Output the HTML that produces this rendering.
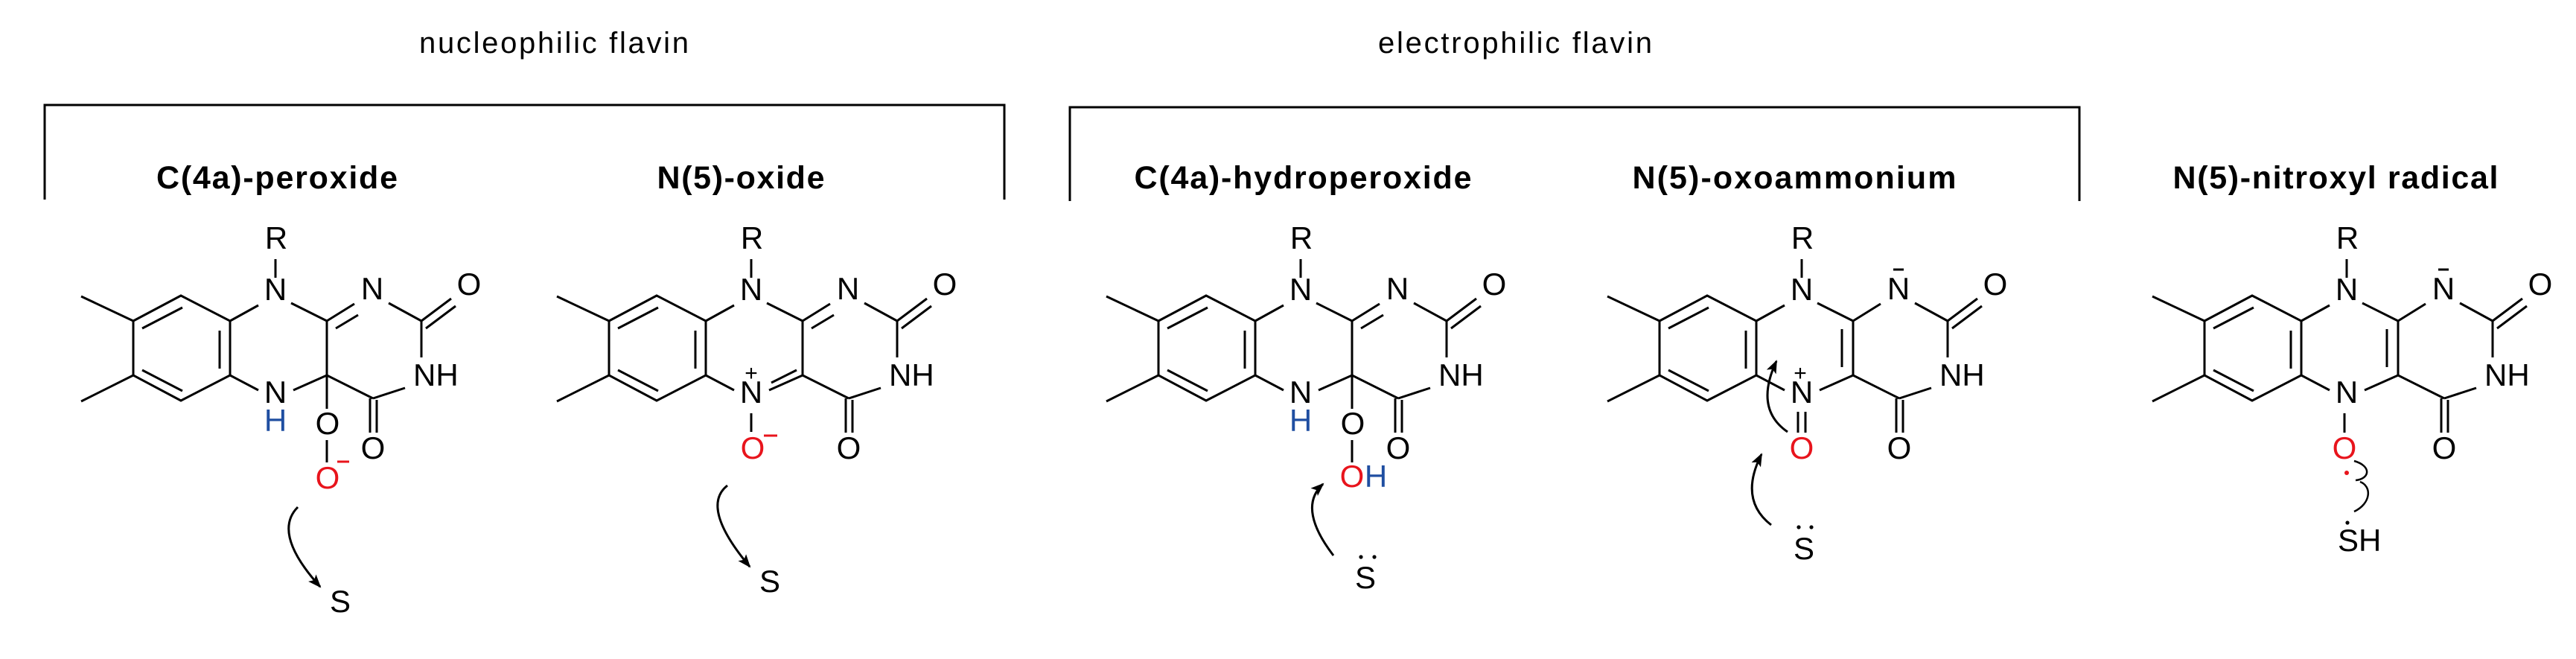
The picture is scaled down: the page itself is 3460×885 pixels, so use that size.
<!DOCTYPE html>
<html><head><meta charset="utf-8"><style>
html,body{margin:0;padding:0;background:#fff;}
svg{display:block;}
text{font-family:"Liberation Sans",Arial,sans-serif;}
</style></head><body>
<svg width="3460" height="885" viewBox="0 0 3460 885" xmlns="http://www.w3.org/2000/svg">
<defs>
<marker id="ah" markerWidth="20" markerHeight="14" refX="16" refY="7" orient="auto" markerUnits="userSpaceOnUse">
<path d="M0,0 L18,7 L0,14 L4,7 Z" fill="#000"/>
</marker>
<g id="core" fill="none" stroke="#000" stroke-width="3">
<path d="M-70,-33 L0,0 M-70,108 L0,73"/>
<path d="M0,0 L64,-34 L130,0 L130,73 L64,107 L0,73 Z"/>
<path d="M12,10 L66,-18 M12,66 L66,94 M116,13 L116,64"/>
<path d="M130,0 L168,-21 M212,-24 L260,0 M191,-83 L191,-58"/>
<path d="M260,0 L297,-23 M343,-24 L387,0 M387,0 L427,-30 M393,10 L433,-20"/>
<path d="M387,0 L387,49 M365,90 L322,104 M318,104 L318,150 M327,106 L327,150"/>
<path d="M260,0 L260,73 M260,73 L322,104 M260,73 L215,93 M130,73 L168,93"/>
</g>
</defs>

<!-- headers -->
<text x="744" y="71" font-size="40" text-anchor="middle" textLength="362">nucleophilic flavin</text>
<text x="2035" y="71" font-size="40" text-anchor="middle" textLength="368">electrophilic flavin</text>
<path d="M60,268 L60,141 L1349,141 L1349,268" fill="none" stroke="#000" stroke-width="3"/>
<path d="M1437,270 L1437,144 L2793,144 L2793,270" fill="none" stroke="#000" stroke-width="3"/>

<g font-size="43" font-weight="bold" text-anchor="middle">
<text x="372" y="253" textLength="324">C(4a)-peroxide</text>
<text x="995" y="253" textLength="225">N(5)-oxide</text>
<text x="1750" y="253" textLength="453">C(4a)-hydroperoxide</text>
<text x="2410" y="253" textLength="435">N(5)-oxoammonium</text>
<text x="3137" y="253" textLength="437">N(5)-nitroxyl radical</text>
</g>

<!-- Molecule 1 -->
<g transform="translate(179,431)" font-size="42" text-anchor="middle">
<use href="#core"/>
<g fill="none" stroke="#000" stroke-width="3">
<path d="M272,10 L302,-8 M260,73 L260,118 M260,160 L260,190"/>
<path d="M221,250 Q186,285 251,357" marker-end="url(#ah)"/>
</g>
<path d="M274,189 L290,189" stroke="#e8141c" stroke-width="3"/>
<text x="192" y="-97">R</text>
<text x="191" y="-28">N</text>
<text x="321" y="-29">N</text>
<text x="451" y="-35">O</text>
<text x="376" y="87" text-anchor="start">NH</text>
<text x="322" y="185">O</text>
<text x="191" y="110">N</text>
<text x="191" y="148" fill="#1f4ea1">H</text>
<text x="261" y="152">O</text>
<text x="261" y="225" fill="#e8141c">O</text>
<text x="278" y="391">S</text>
</g>

<!-- Molecule 2 -->
<g transform="translate(818,431)" font-size="42" text-anchor="middle">
<use href="#core"/>
<g fill="none" stroke="#000" stroke-width="3">
<path d="M272,10 L302,-8 M218,83 L252,66 M191,124 L191,149"/>
<path d="M159,221 Q122,250 189,330" marker-end="url(#ah)"/>
</g>
<path d="M208,154 L226,154" stroke="#e8141c" stroke-width="3"/>
<text x="192" y="-97">R</text>
<text x="191" y="-28">N</text>
<text x="321" y="-29">N</text>
<text x="451" y="-35">O</text>
<text x="376" y="87" text-anchor="start">NH</text>
<text x="322" y="185">O</text>
<text x="191" y="110">N</text>
<text x="191" y="80" font-size="30">+</text>
<text x="193" y="185" fill="#e8141c">O</text>
<text x="216" y="364">S</text>
</g>

<!-- Molecule 3 -->
<g transform="translate(1556,431)" font-size="42" text-anchor="middle">
<use href="#core"/>
<g fill="none" stroke="#000" stroke-width="3">
<path d="M272,10 L302,-8 M260,73 L260,118 M260,160 L260,190"/>
<path d="M235,315 Q186,251 221,219" marker-end="url(#ah)"/>
</g>
<text x="192" y="-97">R</text>
<text x="191" y="-28">N</text>
<text x="321" y="-29">N</text>
<text x="451" y="-35">O</text>
<text x="376" y="87" text-anchor="start">NH</text>
<text x="322" y="185">O</text>
<text x="191" y="110">N</text>
<text x="191" y="148" fill="#1f4ea1">H</text>
<text x="261" y="152">O</text>
<text x="260" y="223" fill="#e8141c">O</text>
<text x="292" y="223" fill="#1f4ea1">H</text>
<text x="278" y="359">S</text>
<circle cx="272" cy="317" r="2.6" fill="#000"/><circle cx="290" cy="317" r="2.6" fill="#000"/>
</g>

<!-- Molecule 4 -->
<g transform="translate(2229,431)" font-size="42" text-anchor="middle">
<use href="#core"/>
<g fill="none" stroke="#000" stroke-width="3">
<path d="M314,-69 L328,-69 M245,11 L245,62 M186,122 L186,150 M196,122 L196,150"/>
<path d="M172,149 Q127,118 157,54" marker-end="url(#ah)"/>
<path d="M150,274 Q106,240 137,179" marker-end="url(#ah)"/>
</g>
<text x="192" y="-97">R</text>
<text x="191" y="-28">N</text>
<text x="321" y="-29">N</text>
<text x="451" y="-35">O</text>
<text x="376" y="87" text-anchor="start">NH</text>
<text x="322" y="185">O</text>
<text x="191" y="110">N</text>
<text x="189" y="80" font-size="30">+</text>
<text x="191" y="185" fill="#e8141c">O</text>
<text x="194" y="320">S</text>
<circle cx="187" cy="277" r="2.6" fill="#000"/><circle cx="204" cy="277" r="2.6" fill="#000"/>
</g>

<!-- Molecule 5 -->
<g transform="translate(2961,431)" font-size="42" text-anchor="middle">
<use href="#core"/>
<g fill="none" stroke="#000" stroke-width="3">
<path d="M314,-69 L328,-69 M245,11 L245,62 M188,124 L188,150"/>
<path d="M201,188 C225,195 222,212 203,214 M209,216 C225,222 224,245 201,256" stroke-width="2.5"/>
</g>
<text x="192" y="-97">R</text>
<text x="191" y="-28">N</text>
<text x="321" y="-29">N</text>
<text x="451" y="-35">O</text>
<text x="376" y="87" text-anchor="start">NH</text>
<text x="322" y="185">O</text>
<text x="191" y="110">N</text>
<text x="188" y="185" fill="#e8141c">O</text>
<circle cx="191" cy="204" r="3" fill="#e8141c"/>
<text x="179" y="309" text-anchor="start">SH</text>
<circle cx="192" cy="271" r="2.6" fill="#000"/>
</g>
</svg>
</body></html>
